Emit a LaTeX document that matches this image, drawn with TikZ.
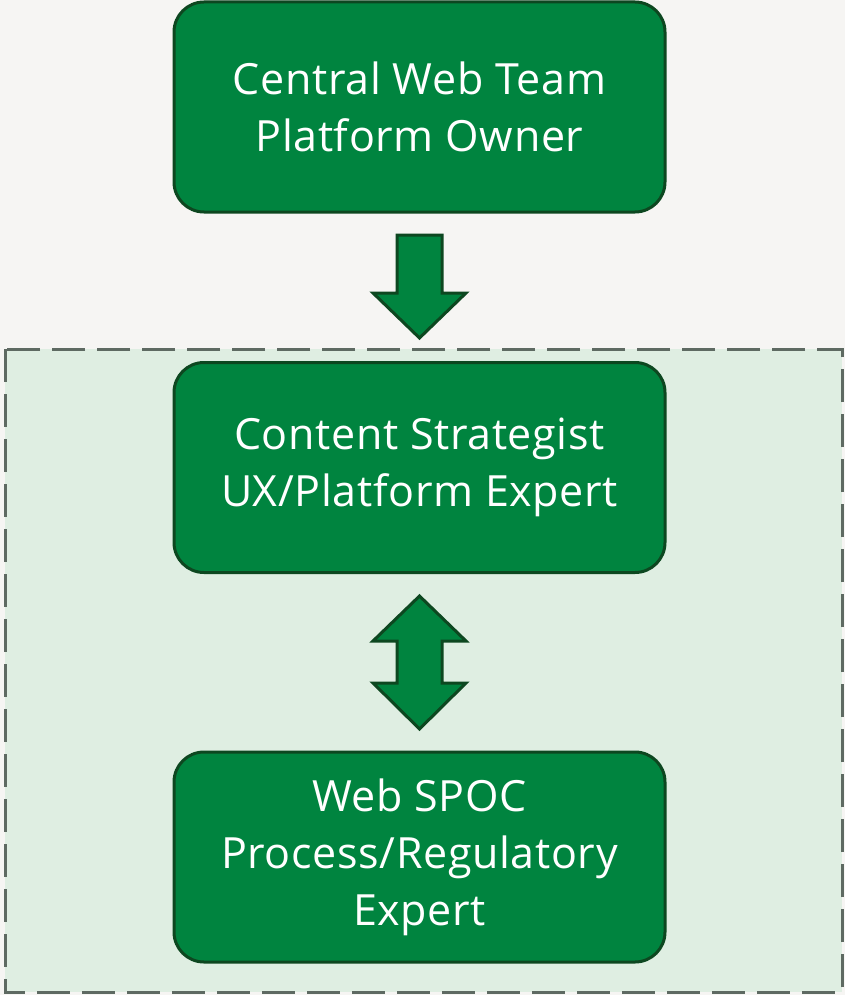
\documentclass[tikz,border=0pt]{standalone}
\usepackage{fontspec}
\setmainfont{Open Sans}[LetterSpace=1.5]
\definecolor{bgc}{HTML}{F6F5F3}
\definecolor{zone}{HTML}{DFEEE2}
\definecolor{zoneline}{HTML}{5E6A62}
\definecolor{boxfill}{HTML}{00843F}
\definecolor{boxline}{HTML}{0D4720}
\begin{document}
\begin{tikzpicture}[x=1pt,y=-1pt,
  rolebox/.style={draw=boxline,line width=3pt,fill=boxfill,rounded corners=30pt,
    minimum width=491pt,minimum height=210pt,text=white,align=center,
    font=\fontsize{43}{57}\selectfont,inner sep=0pt},
  blockarrow/.style={draw=boxline,line width=3pt,fill=boxfill,line join=miter}]
\fill[bgc] (0,0) rectangle (845,995);
\useasboundingbox (0,0) rectangle (845,995);
\draw[zoneline,fill=zone,line width=3pt,dash pattern=on 33pt off 12pt] (5,349) rectangle (842,992);
\node[rolebox] (cwt) at (419.5,107) {Central Web Team\\Platform Owner};
\node[rolebox] (cs) at (419.5,467.5) {Content Strategist\\UX/Platform Expert};
\node[rolebox] (spoc) at (419.5,857) {Web SPOC\\Process/Regulatory\\Expert};
\draw[blockarrow] (397,235) -- (442,235) -- (442,293) -- (466,293) -- (419.5,338) -- (373,293) -- (397,293) -- cycle;
\draw[blockarrow] (419.5,596) -- (466,641) -- (442,641) -- (442,683) -- (466,683) -- (419.5,729) -- (373,683) -- (397,683) -- (397,641) -- (373,641) -- cycle;
\end{tikzpicture}
\end{document}
